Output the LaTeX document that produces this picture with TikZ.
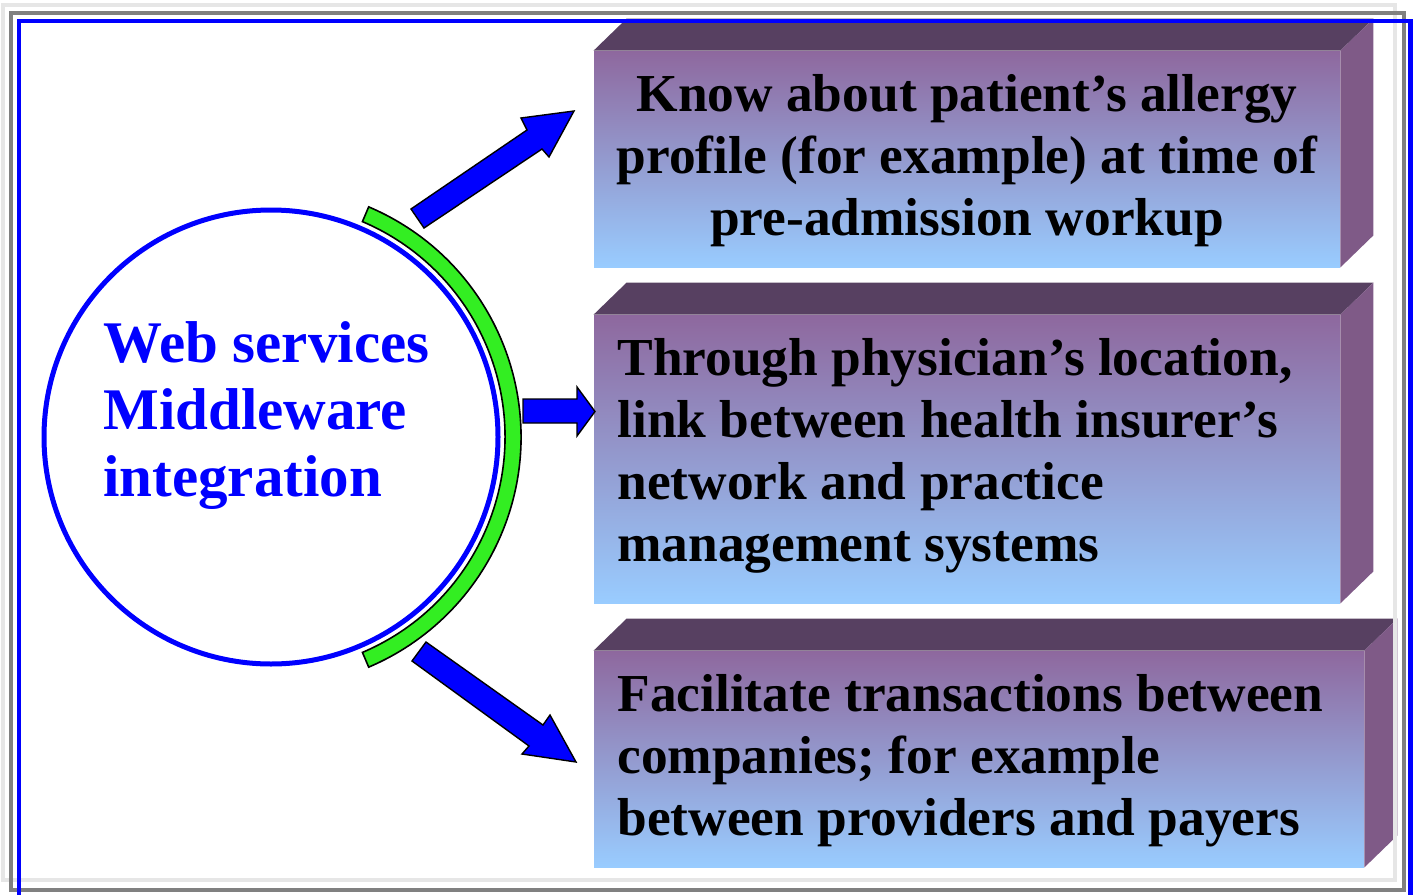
\documentclass[tikz,border=0pt]{standalone}
\usepackage{fontspec}
\setmainfont{Liberation Serif}
\definecolor{fronttop}{RGB}{142,104,158}
\definecolor{frontbot}{RGB}{153,204,255}
\definecolor{topc}{RGB}{87,64,97}
\definecolor{sidec}{RGB}{127,90,135}
\definecolor{cblue}{RGB}{0,0,255}
\definecolor{ringgreen}{RGB}{51,238,34}
\definecolor{lgray}{RGB}{230,230,230}
\definecolor{dgray}{RGB}{128,128,128}
\begin{document}
\begin{tikzpicture}[x=0.5pt,y=-0.5pt,
  face/.style={rectangle, inner sep=0pt, top color=fronttop, bottom color=frontbot, draw=none},
  topface/.style={fill=topc},
  sideface/.style={fill=sidec},
  boxtext/.style={font=\fontsize{26.7}{31}\selectfont\bfseries, inner sep=0pt, text=black},
  circtext/.style={font=\fontsize{29.5}{33.5}\selectfont\bfseries, inner sep=0pt, text=cblue, align=left},
  blockarrow/.style={fill=cblue, draw=black, line width=0.7pt, line join=miter},
  ring/.style={fill=ringgreen, draw=black, line width=0.8pt},
  frameline/.style={line width=2pt}]
\useasboundingbox (0,0) rectangle (1413,894);

% boxes
\node[face, minimum width=373pt, minimum height=108pt] (f1) at (967,159) {};
\node[face, minimum width=373pt, minimum height=144pt] (f2) at (967,459) {};
\node[face, minimum width=385pt, minimum height=108pt] (f3) at (979,759) {};
\foreach \f in {f1,f2,f3}{
  \fill[topface] (\f.north west) -- ++(33,-32) -- ([shift={(33,-32)}]\f.north east) -- (\f.north east) -- cycle;
  \fill[sideface] (\f.north east) -- ++(33,-32) -- ([shift={(33,-32)}]\f.south east) -- (\f.south east) -- cycle;
}
\node[boxtext, align=center] (t1) at (967,161) {Know about patient’s allergy\\profile (for example) at time of\\pre-admission workup};
\node[boxtext, align=left, anchor=west] (t2) at (617,456) {Through physician’s location,\\link between health insurer’s\\network and practice\\management systems};
\node[boxtext, align=left, anchor=west] (t3) at (617,761) {Facilitate transactions between\\companies; for example\\between providers and payers};

% circle
\node[circle, draw=cblue, line width=2.5pt, minimum size=227pt, inner sep=0pt] (c) at (271,437) {};
\node[circtext, anchor=west] (ct) at (103,416) {Web services\\Middleware\\integration};

% green ring
\draw[ring] ([shift={(-67:117pt)}]c.center) arc[start angle=-67, end angle=67, radius=117pt]
  -- ([shift={(67:125pt)}]c.center) arc[start angle=67, end angle=-67, radius=125pt] -- cycle;

% block arrows
\draw[blockarrow] (411,209) -- (527,130) -- (521,118) -- (574,111) -- (549,157) -- (542,149) -- (424,228) -- cycle;
\draw[blockarrow] (523,399) -- (577,399) -- (577,387) -- (595,411.5) -- (577,436) -- (577,423) -- (523,423) -- cycle;
\draw[blockarrow] (412,661) -- (529,746) -- (522,754) -- (576,762) -- (550,715) -- (543,725) -- (426,642) -- cycle;

% frames
\draw[frameline, lgray] (2.5,5) rectangle (1395,879.5);
\draw[frameline, dgray] (11,13) rectangle (1403.5,889.5);
\draw[frameline, cblue, line width=2.3pt] (19,21) rectangle (1410.5,905);
\end{tikzpicture}
\end{document}
